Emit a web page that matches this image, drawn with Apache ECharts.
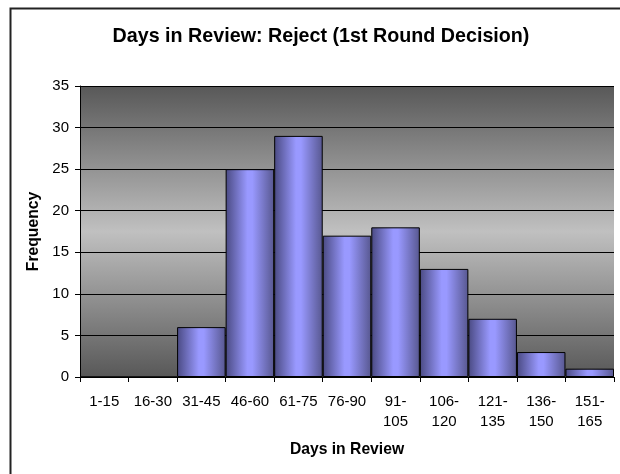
<!DOCTYPE html>
<html lang="en">
<head>
    <meta charset="UTF-8">
    <title>Days in Review</title>
    <script src="https://cdn.jsdelivr.net/npm/echarts@6/dist/echarts.min.js"></script>
    <style>
        html, body { margin: 0; padding: 0; background: #fff; }
    </style>
</head>
<body>
    <div id="main" style="width: 620px;height: 474px;"></div>
    <script>
        // bins and counts
        var bins = ['1-15', '16-30', '31-45', '46-60', '61-75', '76-90', '91-105', '106-120', '121-135', '136-150', '151-165']
        var counts = [0, 0, 6, 25, 29, 17, 18, 13, 7, 3, 1]
        var yTicks = [0, 5, 10, 15, 20, 25, 30, 35]

        var mCharts = echarts.init(document.getElementById('main'))

        var option = {
            animation: false,
            textStyle: { fontFamily: 'Liberation Sans, Arial, sans-serif' },
            title: {
                text: 'Days in Review: Reject (1st Round Decision)',
                left: 316,
                textAlign: 'center',
                top: 22,
                textStyle: { fontSize: 19.7, fontWeight: 'bold', color: '#000' }
            },
            graphic: [{
                type: 'rect',
                left: 8, top: 6,
                shape: { width: 700, height: 600 },
                style: { fill: 'none', stroke: '#222', lineWidth: 2 },
                silent: true
            }],
            grid: {
                left: 80, right: 6, top: 86, bottom: 97,
                show: true,
                borderWidth: 0,
                backgroundColor: new echarts.graphic.LinearGradient(0, 0, 0, 1, [
                    { offset: 0, color: '#585858' },
                    { offset: 0.5, color: '#c0c0c0' },
                    { offset: 1, color: '#585858' }
                ])
            },
            xAxis: {
                type: 'category',
                data: bins,
                name: 'Days in Review',
                nameLocation: 'middle',
                nameGap: 65,
                nameTextStyle: { fontSize: 15.7, fontWeight: 'bold', color: '#000' },
                axisLine: { lineStyle: { color: '#000', width: 1 } },
                axisTick: { show: true, length: 5, interval: 0, lineStyle: { color: '#000' } },
                axisLabel: {
                    interval: 0,
                    margin: 15,
                    fontSize: 15,
                    lineHeight: 20,
                    color: '#000',
                    // long bins wrap after the dash like the original
                    formatter: function (v) {
                        return v.length > 5 ? v.replace('-', '-\n') : v
                    }
                }
            },
            yAxis: {
                type: 'value',
                min: yTicks[0],
                max: yTicks[yTicks.length - 1],
                interval: 5,
                name: 'Frequency',
                nameLocation: 'middle',
                nameGap: 37,
                nameTextStyle: { fontSize: 15.7, fontWeight: 'bold', color: '#000' },
                axisLine: { show: true, lineStyle: { color: '#000', width: 1 } },
                axisTick: { show: true, length: 5, lineStyle: { color: '#000' } },
                axisLabel: { fontSize: 15, margin: 11, color: '#000' },
                splitLine: { show: true, lineStyle: { color: '#000', width: 1 } }
            },
            series: [{
                type: 'bar',
                data: counts,
                barCategoryGap: 0,
                itemStyle: {
                    borderColor: '#000',
                    borderWidth: 1,
                    color: new echarts.graphic.LinearGradient(0, 0, 1, 0, [
                        { offset: 0, color: '#4a4a82' },
                        { offset: 0.45, color: '#9999ff' },
                        { offset: 0.55, color: '#9999ff' },
                        { offset: 1, color: '#57578f' }
                    ])
                }
            }]
        }
        mCharts.setOption(option)
    </script>
</body>
</html>
